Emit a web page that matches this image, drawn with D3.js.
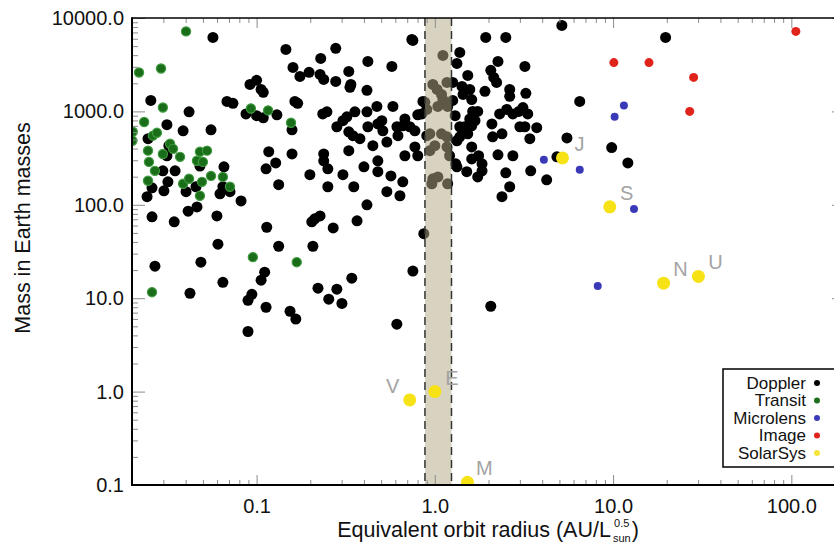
<!DOCTYPE html>
<html>
<head>
<meta charset="utf-8">
<script src="https://cdn.jsdelivr.net/npm/d3@7"></script>
<style>
  html, body { margin: 0; padding: 0; background: #fff; }
  svg { display: block; font-family: "Liberation Sans", Arial, sans-serif; }
</style>
</head>
<body>
<div id="chart"></div>
<script>
// [orbit radius (AU/L^0.5), mass (Earth masses)]
var doppler = [
  [0.0569,6200],[0.146,4610],[0.160,2960],[0.175,2370],[0.197,2620],[0.229,3690],[0.227,2490],[0.238,2200],
  [0.278,4730],[0.278,2095],[0.329,2680],[0.338,1945],[0.334,1810],[0.421,3430],[0.416,1680],[0.574,3030],
  [0.743,5900],[0.0918,1945],[0.100,2150],[0.106,1720],[0.109,1600],[0.0255,1310],[0.0418,990],[0.0682,1280],
  [0.0737,1220],[0.0872,940],[0.100,900],[0.109,855],[0.130,920],[0.158,635],[0.164,1280],[0.170,1220],
  [0.158,350],[0.235,940],[0.248,990],[0.282,685],[0.321,875],[0.305,795],[0.356,990],[0.416,990],
  [0.473,1130],[0.582,1130],[0.802,920],[0.329,605],[0.347,550],[0.380,510],[0.421,685],[0.479,735],
  [0.504,795],[0.511,620],[0.538,470],[0.449,430],[0.613,685],[0.621,550],[0.661,700],[0.679,830],
  [0.724,685],[0.773,620],[0.773,417],[0.679,335],[0.329,380],[0.238,350],[0.238,296],[0.251,243],
  [0.305,210],[0.199,210],[0.400,255],[0.479,296],[0.479,226],[0.567,204],[0.661,176],[0.351,156],
  [0.251,156],[0.538,138],[0.637,125],[0.416,100],[0.133,164],[0.117,370],[0.128,281],[0.113,243],
  [0.204,65.7],[0.212,70.8],[0.227,76],[0.269,56.6],[0.366,67.3],[0.114,57.5],[0.133,36.0],[0.207,36.0],
  [0.0607,37.9],[0.0487,24.3],[0.0269,22.0],[0.753,19.5],[0.342,16.4],[0.111,19.0],[0.106,15.6],
  [0.0314,720],[0.0387,620],[0.0555,635],[0.0322,430],[0.0314,335],[0.0298,231],[0.0349,231],[0.0318,176],
  [0.0302,141],[0.0259,152],[0.0243,122],[0.0259,74.4],[0.0345,65.7],[0.0413,85.4],[0.0463,95],[0.0402,138],
  [0.0457,156],[0.0481,260],[0.0656,255],[0.0647,156],[0.0623,131],[0.0709,138],[0.0818,110],[0.0599,76],
  [0.0246,510],[0.857,1280],[0.802,335],[0.0647,14.8],[0.0423,11.3],[0.0941,11.0],[0.0895,9.5],[0.113,8.0],
  [0.154,7.25],[0.166,5.98],[0.0895,4.4],[0.221,12.8],[0.282,12.5],[0.254,9.76],[0.301,8.8],[0.612,5.27],
  [2.06,8.2],[5.16,8330],[0.753,5750],[1.93,6200],[2.50,6200],[19.7,6200],[1.38,4280],[1.33,3260],
  [2.26,3430],[3.20,3030],[1.53,2430],[2.06,2750],[2.14,2310],[2.22,2040],[1.42,1850],[1.44,1520],
  [1.57,1720],[1.91,1640],[2.63,1720],[2.63,1450],[3.24,1560],[1.26,2040],[1.26,1310],[1.61,1340],
  [1.30,900],[1.63,1000],[1.74,1000],[1.57,830],[1.68,795],[2.09,735],[2.31,940],[2.53,1050],
  [2.74,940],[2.96,1000],[3.12,1100],[3.32,940],[1.38,685],[1.47,685],[1.61,700],[1.38,535],
  [1.53,575],[1.33,485],[2.11,535],[3.00,685],[3.20,685],[3.73,670],[3.41,510],[5.51,520],
  [1.61,417],[1.76,335],[1.61,310],[1.84,275],[1.31,275],[1.33,255],[1.51,226],[1.84,231],
  [1.74,199],[2.26,343],[2.74,335],[2.50,220],[3.45,231],[2.63,156],[2.38,122],[4.24,185],
  [4.84,326],[6.50,1280],[9.82,410],[12.1,281],[0.845,940],[0.879,1250],[2.38,575],[1.44,620],
  [1.11,3970],[0.975,1945],[1.03,1720],[1.09,1520],[1.11,1340],[1.04,1130],[0.901,1050],[1.18,1130],
  [0.901,550],[0.9375,575],[1.09,575],[1.17,535],[1.0,430],[1.17,417],[0.9375,380],[1.21,335],
  [0.975,190],[1.04,199],[1.18,168],[0.962,168],[0.867,49],[1.17,2040]
];

var transit = [
  [0.0402,7190],[0.0219,2610],[0.0291,2880],[0.0298,1100],[0.0234,770],[0.0202,605],[0.0201,485],[0.0262,550],
  [0.0276,590],[0.0246,380],[0.0249,288],[0.0269,231],[0.0246,181],[0.0298,350],[0.0327,450],[0.0340,397],
  [0.0372,326],[0.0387,168],[0.0418,190],[0.0463,296],[0.0481,370],[0.0527,380],[0.0500,288],[0.0494,176],
  [0.0481,125],[0.0555,204],[0.0647,199],[0.0709,156],[0.0929,1075],[0.116,1025],[0.156,755],[0.0953,27.5],
  [0.168,24.3],[0.0259,11.6]
];

var microlens = [[11.5,1160],[10.2,875],[4.09,303],[6.50,237],[13.1,90],[8.20,13.5]];

var imaged = [[106,7190],[10.1,3330],[15.9,3330],[28.3,2310],[26.9,1000]];

var solarNames = ["V", "E", "M", "J", "S", "N", "U"];
var solarSys = [[0.723,0.815],[1.0,1.0],[1.524,0.107],[5.20,317.8],[9.58,95.2],[19.2,14.5],[30.1,17.1]];

var habitableZone = [0.88, 1.24];

var xTicks = [0.1, 1, 10, 100];
var yTicks = [0.1, 1, 10, 100, 1000, 10000];

var legendNames = ["Doppler", "Transit", "Microlens", "Image", "SolarSys"];
var legendColors = ["#000000", "#1e701e", "#3a3ab8", "#e0241c", "#f5e43a"];

(function() {
  var w = 834, h = 543;
  var pLeft = 132, pRight = 845, pTop = 18, pBottom = 485;

  var svg = d3.select("#chart").append("svg")
    .attr("width", w)
    .attr("height", h);

  var xscale = d3.scaleLog().domain([0.02, 200]).range([pLeft, pRight]);
  var yscale = d3.scaleLog().domain([0.1, 10000]).range([pBottom, pTop]);

  // minor ticks 2..9 of every decade
  var xMinor = [], yMinor = [];
  [0.01, 0.1, 1, 10, 100].forEach(function(d) {
    for (var k = 2; k <= 9; k++) {
      var v = +(d * k).toPrecision(3);
      if (v >= 0.02 && v <= 200) xMinor.push(v);
    }
  });
  [0.1, 1, 10, 100, 1000].forEach(function(d) {
    for (var k = 2; k <= 9; k++) yMinor.push(+(d * k).toPrecision(3));
  });

  svg.append("defs").append("clipPath").attr("id", "plotclip")
    .append("rect")
    .attr("x", pLeft).attr("y", pTop)
    .attr("width", pRight - pLeft).attr("height", pBottom - pTop);

  var plot = svg.append("g").attr("clip-path", "url(#plotclip)");

  plot.append("g").selectAll("circle").data(doppler).enter().append("circle")
    .attr("cx", function(d) { return xscale(d[0]); })
    .attr("cy", function(d) { return yscale(d[1]); })
    .attr("r", 5.5)
    .attr("fill", "#000");

  plot.append("g").selectAll("circle").data(transit).enter().append("circle")
    .attr("cx", function(d) { return xscale(d[0]); })
    .attr("cy", function(d) { return yscale(d[1]); })
    .attr("r", 4.6)
    .attr("fill", "#1a6e1a")
    .attr("stroke", "#3f9a3f")
    .attr("stroke-width", 1.2);

  // habitable zone band
  var bx0 = xscale(habitableZone[0]), bx1 = xscale(habitableZone[1]);
  plot.append("rect")
    .attr("x", bx0).attr("y", pTop)
    .attr("width", bx1 - bx0).attr("height", pBottom - pTop)
    .attr("fill", "rgb(180,170,134)")
    .attr("fill-opacity", 0.52);
  plot.selectAll("line.hz").data(habitableZone).enter().append("line")
    .attr("class", "hz")
    .attr("x1", function(d) { return xscale(d); })
    .attr("x2", function(d) { return xscale(d); })
    .attr("y1", pTop).attr("y2", pBottom)
    .attr("stroke", "#333")
    .attr("stroke-width", 1.5)
    .attr("stroke-dasharray", "8,5");

  plot.append("g").selectAll("circle").data(microlens).enter().append("circle")
    .attr("cx", function(d) { return xscale(d[0]); })
    .attr("cy", function(d) { return yscale(d[1]); })
    .attr("r", 4)
    .attr("fill", "#3a3ab8");

  plot.append("g").selectAll("circle").data(imaged).enter().append("circle")
    .attr("cx", function(d) { return xscale(d[0]); })
    .attr("cy", function(d) { return yscale(d[1]); })
    .attr("r", 4.5)
    .attr("fill", "#e0241c");

  plot.append("g").selectAll("circle").data(solarSys).enter().append("circle")
    .attr("cx", function(d) { return xscale(d[0]); })
    .attr("cy", function(d) { return yscale(d[1]); })
    .attr("r", 6.5)
    .attr("fill", "#f7e216");

  plot.append("g").selectAll("text").data(solarSys).enter().append("text")
    .attr("x", function(d, i) { return xscale(d[0]) + (i === 0 ? -17 : 17); })
    .attr("y", function(d) { return yscale(d[1]) - 7; })
    .attr("text-anchor", "middle")
    .attr("font-size", 20)
    .attr("fill", "#a3a3a3")
    .text(function(d, i) { return solarNames[i]; });

  // axes: ticks point inward
  function styleAxis(g) {
    g.select(".domain").remove();
    g.selectAll(".tick line").attr("stroke", "#8c8c8c").attr("stroke-width", 1);
    g.selectAll(".tick text").attr("font-size", 20).attr("fill", "#111")
      .attr("font-family", "'Liberation Sans', Arial, sans-serif");
  }

  svg.append("g").attr("transform", "translate(" + pLeft + ",0)")
    .call(d3.axisLeft(yscale).tickValues(yTicks).tickSize(-13).tickPadding(8).tickFormat(d3.format(".1f")))
    .call(styleAxis);
  svg.append("g").attr("transform", "translate(" + pLeft + ",0)")
    .call(d3.axisLeft(yscale).tickValues(yMinor).tickSize(-6).tickFormat(""))
    .call(styleAxis);
  svg.append("g").attr("transform", "translate(" + pRight + ",0)")
    .call(d3.axisRight(yscale).tickValues(yTicks).tickSize(-13).tickFormat(""))
    .call(styleAxis);
  svg.append("g").attr("transform", "translate(" + pRight + ",0)")
    .call(d3.axisRight(yscale).tickValues(yMinor).tickSize(-6).tickFormat(""))
    .call(styleAxis);

  svg.append("g").attr("transform", "translate(0," + pBottom + ")")
    .call(d3.axisBottom(xscale).tickValues(xTicks).tickSize(-10).tickPadding(14).tickFormat(d3.format(".1f")))
    .call(styleAxis);
  svg.append("g").attr("transform", "translate(0," + pBottom + ")")
    .call(d3.axisBottom(xscale).tickValues(xMinor).tickSize(-5).tickFormat(""))
    .call(styleAxis);
  svg.append("g").attr("transform", "translate(0," + pTop + ")")
    .call(d3.axisTop(xscale).tickValues(xTicks).tickSize(-10).tickFormat(""))
    .call(styleAxis);
  svg.append("g").attr("transform", "translate(0," + pTop + ")")
    .call(d3.axisTop(xscale).tickValues(xMinor).tickSize(-5).tickFormat(""))
    .call(styleAxis);

  // frame
  svg.append("line").attr("x1", pLeft).attr("x2", pRight).attr("y1", pTop).attr("y2", pTop)
    .attr("stroke", "#000").attr("stroke-width", 1.5);
  svg.append("line").attr("x1", pLeft).attr("x2", pLeft).attr("y1", pTop - 0.75).attr("y2", pBottom + 1)
    .attr("stroke", "#000").attr("stroke-width", 2);
  svg.append("line").attr("x1", pLeft).attr("x2", pRight).attr("y1", pBottom).attr("y2", pBottom)
    .attr("stroke", "#000").attr("stroke-width", 2);
  svg.append("line").attr("x1", pRight).attr("x2", pRight).attr("y1", pTop).attr("y2", pBottom)
    .attr("stroke", "#000").attr("stroke-width", 2);

  // axis titles
  svg.append("text")
    .attr("transform", "translate(30,228) rotate(-90)")
    .attr("text-anchor", "middle")
    .attr("font-size", 21.5)
    .attr("fill", "#111")
    .text("Mass in Earth masses");

  var xt = svg.append("g");
  var mainT = xt.append("text")
    .attr("y", 537)
    .attr("font-size", 21.5)
    .attr("fill", "#111")
    .text("Equivalent orbit radius (AU/L");
  var supT = xt.append("text").attr("y", 527).attr("font-size", 11).attr("fill", "#111").text("0.5");
  var subT = xt.append("text").attr("y", 542).attr("font-size", 11).attr("fill", "#111").text("sun");
  var closeT = xt.append("text").attr("y", 537).attr("font-size", 21.5).attr("fill", "#111").text(")");

  var mw = mainT.node().getComputedTextLength();
  var sw = Math.max(supT.node().getComputedTextLength(), subT.node().getComputedTextLength());
  var cw = closeT.node().getComputedTextLength();
  var total = mw + 2 + sw + 1 + cw;
  var x0 = 488 - total / 2;
  mainT.attr("x", x0);
  supT.attr("x", x0 + mw + 2 + (sw - supT.node().getComputedTextLength()) / 2);
  subT.attr("x", x0 + mw + 2);
  closeT.attr("x", x0 + mw + 2 + sw + 1);

  // legend
  var lg = svg.append("g");
  lg.append("rect")
    .attr("x", 723).attr("y", 369)
    .attr("width", 125).attr("height", 98)
    .attr("fill", "#fff")
    .attr("stroke", "#000")
    .attr("stroke-width", 1.5);
  var rows = lg.selectAll("g.row").data(legendNames).enter().append("g")
    .attr("class", "row")
    .attr("transform", function(d, i) { return "translate(0," + (383 + i * 17.5) + ")"; });
  rows.append("text")
    .attr("x", 806)
    .attr("dy", "0.35em")
    .attr("text-anchor", "end")
    .attr("font-size", 17)
    .attr("fill", "#111")
    .text(function(d) { return d; });
  rows.append("circle")
    .attr("cx", 817)
    .attr("r", 3)
    .attr("fill", function(d, i) { return legendColors[i]; });
})();
</script>
</body>
</html>
